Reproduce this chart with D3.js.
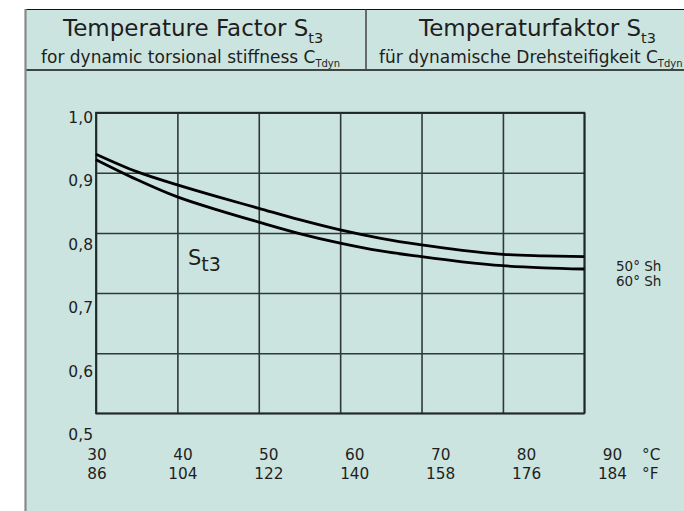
<!DOCTYPE html>
<html>
<head>
<meta charset="utf-8">
<script src="https://cdn.jsdelivr.net/npm/d3@7/dist/d3.min.js"></script>
<style>
  html, body { margin: 0; padding: 0; background: #ffffff; }
  svg { display: block; }
  text { font-family: "DejaVu Sans", Verdana, sans-serif; fill: #1e1e1e; }
</style>
</head>
<body>
<svg id="chart" width="684" height="511"></svg>
<script>
// ---- data ----
const temperaturesC = [30, 35, 40, 45, 50, 55, 60, 65, 70, 75, 80, 85, 90];
const series50Sh = [0.931, 0.902, 0.880, 0.860, 0.841, 0.822, 0.805, 0.791, 0.780, 0.771, 0.7645, 0.762, 0.7605];
const series60Sh = [0.922, 0.889, 0.860, 0.838, 0.818, 0.799, 0.783, 0.770, 0.7605, 0.752, 0.7455, 0.742, 0.740];
const seriesNames = ["50° Sh", "60° Sh"];
const xTicksC = [30, 40, 50, 60, 70, 80, 90];
const xTickLabelsF = ["86", "104", "122", "140", "158", "176", "184"];
const yTicks = [0.5, 0.6, 0.7, 0.8, 0.9, 1.0];
const yTickLabels = ["0,5", "0,6", "0,7", "0,8", "0,9", "1,0"];

const svg = d3.select("#chart");
const bg = "#cce4df";

// background panel
svg.append("rect").attr("x", 25).attr("y", 9.5).attr("width", 700).attr("height", 520).attr("fill", bg);

// header frame
svg.append("line").attr("x1", 25).attr("x2", 700).attr("y1", 9.5).attr("y2", 9.5).attr("stroke", "#111").attr("stroke-width", 1.2);
svg.append("line").attr("x1", 25).attr("x2", 700).attr("y1", 70).attr("y2", 70).attr("stroke", "#111").attr("stroke-width", 1.5);
svg.append("line").attr("x1", 366).attr("x2", 366).attr("y1", 9.5).attr("y2", 70).attr("stroke", "#444").attr("stroke-width", 1.5);
svg.append("line").attr("x1", 25.5).attr("x2", 25.5).attr("y1", 9).attr("y2", 511).attr("stroke", "#888").attr("stroke-width", 2.2);

function titleText(x, y, main, sub, mainSize, subSize, subDy) {
  const t = svg.append("text").attr("x", x).attr("y", y).attr("text-anchor", "start");
  t.append("tspan").attr("font-size", mainSize).text(main);
  t.append("tspan").attr("font-size", subSize).attr("dy", subDy).text(sub);
  return t;
}
titleText(63, 36, "Temperature Factor S", "t3", 23, 14.5, 7);
titleText(41, 63, "for dynamic torsional stiffness C", "Tdyn", 17, 10, 4);
titleText(419, 36, "Temperaturfaktor S", "t3", 23, 14.5, 7);
titleText(379, 63, "für dynamische Drehsteifigkeit C", "Tdyn", 17, 10, 4);

// ---- scales ----
const x = d3.scaleLinear().domain([30, 90]).range([96, 584.3]);
const y = d3.scaleLinear().domain([0.5, 1.0]).range([413.3, 112.7]);
// tick label positions (labels in the original are spread a bit wider than the grid)
const xLab = d3.scaleLinear().domain([30, 90]).range([97, 612.5]);
const yLab = d3.scaleLinear().domain([0.5, 1.0]).range([440, 122.7]);

// grid
const grid = svg.append("g");
grid.append("g").attr("transform", `translate(0,${y(0.5)})`)
  .call(d3.axisBottom(x).tickValues(xTicksC).tickSize(-(y(0.5) - y(1.0))).tickFormat(""))
  .call(g => g.select(".domain").remove())
  .call(g => g.selectAll("line").attr("stroke", "#2f3a38").attr("stroke-width", 1.6));
grid.append("g").attr("transform", `translate(${x(30)},0)`)
  .call(d3.axisLeft(y).tickValues(yTicks).tickSize(-(x(90) - x(30))).tickFormat(""))
  .call(g => g.select(".domain").remove())
  .call(g => g.selectAll("line").attr("stroke", "#2f3a38").attr("stroke-width", 1.6));
svg.append("rect").attr("x", x(30)).attr("y", y(1.0)).attr("width", x(90) - x(30)).attr("height", y(0.5) - y(1.0))
  .attr("fill", "none").attr("stroke", "#1f2826").attr("stroke-width", 1.8);

// tick labels
svg.append("g").selectAll("text").data(yTicks).join("text")
  .attr("x", 93).attr("y", d => yLab(d)).attr("text-anchor", "end").attr("font-size", 15.5)
  .text((d, i) => yTickLabels[i]);
svg.append("g").selectAll("text").data(xTicksC).join("text")
  .attr("x", d => xLab(d)).attr("y", 460).attr("text-anchor", "middle").attr("font-size", 15.3)
  .text(d => d);
svg.append("g").selectAll("text").data(xTicksC).join("text")
  .attr("x", d => xLab(d)).attr("y", 479).attr("text-anchor", "middle").attr("font-size", 15.3)
  .text((d, i) => xTickLabelsF[i]);
svg.append("text").attr("x", 642).attr("y", 460).attr("font-size", 15.3).text("°C");
svg.append("text").attr("x", 642).attr("y", 479).attr("font-size", 15.3).text("°F");

// curves
const line = d3.line().x((d, i) => x(temperaturesC[i])).y(d => y(d)).curve(d3.curveMonotoneX);
[series50Sh, series60Sh].forEach(s => {
  svg.append("path").attr("d", line(s)).attr("fill", "none").attr("stroke", "#000").attr("stroke-width", 2.8);
});

// series labels
svg.append("g").selectAll("text").data(seriesNames).join("text")
  .attr("x", 616).attr("y", (d, i) => 270.7 + i * 15.5).attr("font-size", 13.5).text(d => d);

// S t3 label
const st = svg.append("text").attr("x", 188).attr("y", 264.5);
st.append("tspan").attr("font-size", 21).text("S");
st.append("tspan").attr("font-size", 19).attr("dy", 6).text("t3");
</script>
</body>
</html>
